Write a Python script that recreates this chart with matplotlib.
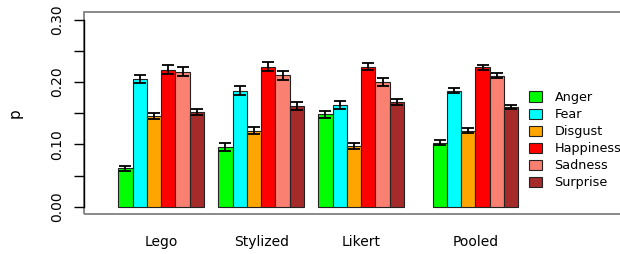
import matplotlib.pyplot as plt
import matplotlib.patches as mpatches
import numpy as np

groups = ['Lego', 'Stylized', 'Likert', 'Pooled']
emotions = ['Anger', 'Fear', 'Disgust', 'Happiness', 'Sadness', 'Surprise']
colors = ['#00FF00', '#00FFFF', '#FFA500', '#FF0000', '#FA8072', '#A52A2A']

# mean p per group, one list per emotion (Lego, Stylized, Likert, Pooled)
anger = [0.062, 0.096, 0.148, 0.103]
fear = [0.205, 0.186, 0.163, 0.186]
disgust = [0.146, 0.122, 0.098, 0.122]
happiness = [0.220, 0.225, 0.225, 0.224]
sadness = [0.217, 0.211, 0.200, 0.210]
surprise = [0.152, 0.162, 0.168, 0.160]

# error bar half-widths
anger_err = [0.004, 0.006, 0.006, 0.0035]
fear_err = [0.007, 0.007, 0.006, 0.004]
disgust_err = [0.005, 0.006, 0.005, 0.004]
happiness_err = [0.007, 0.007, 0.005, 0.004]
sadness_err = [0.007, 0.007, 0.006, 0.004]
surprise_err = [0.005, 0.006, 0.005, 0.003]

values = [anger, fear, disgust, happiness, sadness, surprise]
errors = [anger_err, fear_err, disgust_err, happiness_err, sadness_err, surprise_err]

# left edge of each group in bar-width units (R barplot style spacing)
group_start = np.array([1, 8, 15, 23])

fig = plt.figure(figsize=(6.2, 2.54), dpi=100)
ax = fig.add_axes([84 / 620, 40 / 254, 540 / 620, 202 / 254])

for i, (vals, errs) in enumerate(zip(values, errors)):
    x = group_start + i + 0.5
    ax.bar(x, vals, width=1.0, color=colors[i], edgecolor='#222222', linewidth=0.8,
           label=emotions[i], zorder=2)
    ax.errorbar(x, vals, yerr=errs, fmt='none', ecolor='black', elinewidth=1.3,
                capsize=4, capthick=1.3, zorder=3)

ax.set_xlim(-1.40, 36.4)
ax.set_ylim(-0.0117, 0.3125)

for s in ['top', 'right', 'bottom']:
    ax.spines[s].set_visible(False)
ax.spines['left'].set_bounds(0, 0.30)
ax.spines['left'].set_color('black')
ax.spines['left'].set_linewidth(1.0)
ax.add_patch(mpatches.Rectangle((0, 0), 1, 1, transform=ax.transAxes, fill=False,
                                edgecolor='#808080', linewidth=1.3, clip_on=False, zorder=0))

ax.set_yticks([0, 0.05, 0.10, 0.15, 0.20, 0.25, 0.30])
ax.set_yticklabels(['0.00', '', '0.10', '', '0.20', '', '0.30'], rotation=90, va='center',
                   fontsize=10)
ax.tick_params(axis='y', length=7, width=1.0, pad=7)
ax.set_ylabel('p', fontsize=11, labelpad=20)

ax.set_xticks(group_start + 3)
ax.set_xticklabels(groups, fontsize=10)
ax.tick_params(axis='x', length=0, pad=15)

ax.legend(loc='upper left', bbox_to_anchor=((529 - 84) / 540, (254 - 91 - 40) / 202),
          frameon=False, fontsize=9.2, handlelength=1.0, handleheight=0.85,
          handletextpad=1.0, labelspacing=0.32, borderpad=0, borderaxespad=0)

plt.savefig('out.png', dpi=100)
